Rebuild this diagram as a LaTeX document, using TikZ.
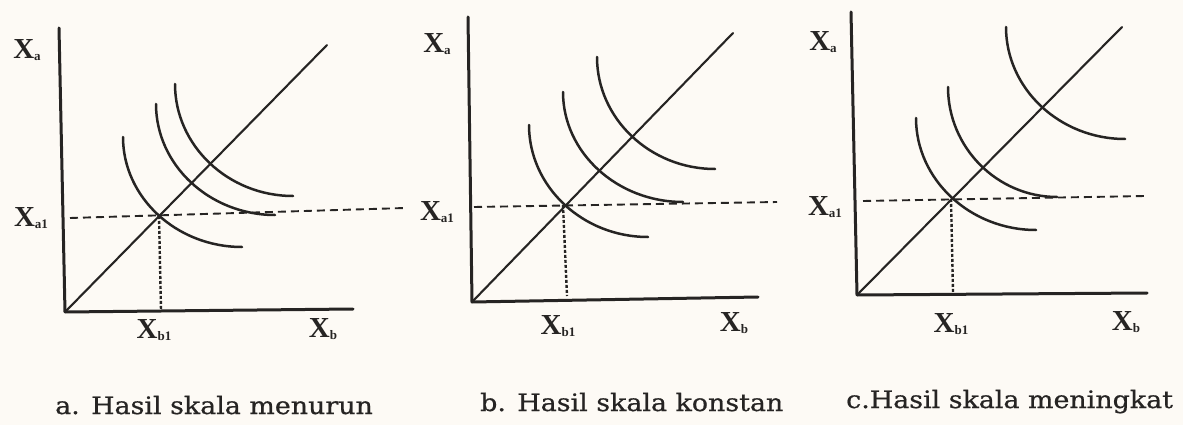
\documentclass[tikz,border=0pt]{standalone}
\usepackage{fontspec}
\setmainfont{Liberation Serif}
\newfontfamily\capfont[FakeStretch=1.12,FakeBold=0.6]{DejaVu Serif}
\usetikzlibrary{calc}
\definecolor{ink}{RGB}{38,36,35}
\definecolor{paper}{RGB}{253,250,245}
\newcommand\Xlab[1]{\textbf{X}\raisebox{-2pt}{\fontsize{13}{13}\selectfont\bfseries #1}}
\newcommand\icurve[3]{%
  \draw[curve] (#1) .. controls ($(#1)!0.55!(#1 |- #2)$) and ($(#2)!0.55!(#1 |- #2)$) .. (#2) coordinate (#3);}
\tikzset{
  axis/.style={draw=ink, line width=3pt, line cap=round, line join=round},
  diag/.style={draw=ink, line width=2.1pt, line cap=round},
  curve/.style={draw=ink, line width=2.5pt, line cap=round},
  hdash/.style={draw=ink, line width=1.9pt, dash pattern=on 8pt off 5pt},
  vdot/.style={draw=ink, line width=2.4pt, dash pattern=on 3pt off 2pt},
  lab/.style={text=ink, inner sep=0pt, font=\fontsize{29}{29}\selectfont},
  captext/.style={text=ink, inner sep=0pt, anchor=base west, font=\capfont\fontsize{24}{24}\selectfont},
}
\begin{document}
\begin{tikzpicture}[x=1pt,y=-1pt]
\fill[paper] (0,0) rectangle (1183,425);
\useasboundingbox (0,0) rectangle (1183,425);

% ---------- panel a ----------
\coordinate (aO) at (65,312);
\coordinate (aY) at (59,28);
\coordinate (aX) at (353,309);
\coordinate (aD) at (327,45);
\coordinate (aP) at (159,216);
\coordinate (aHs) at (70,218);
\coordinate (aHe) at (405,208);
\coordinate (aV) at (161,310);
\draw[axis] (aY) -- (aO) -- (aX);
\draw[diag] (aO) -- (aD);
\draw[hdash] (aHs) -- (aHe);
\draw[vdot] (aP) -- (aV);
\coordinate (a1s) at (123,137); \coordinate (a1e) at (242,247);
\coordinate (a2s) at (156,104); \coordinate (a2e) at (275,215);
\coordinate (a3s) at (175,84);  \coordinate (a3e) at (293,196);
\icurve{a1s}{a1e}{a1x}
\icurve{a2s}{a2e}{a2x}
\icurve{a3s}{a3e}{a3x}
\node[lab] (aLa) at (27,50) {\Xlab{a}};
\node[lab] (aLa1) at (31,218) {\Xlab{a1}};
\node[lab] (aLb1) at (154,330) {\Xlab{b1}};
\node[lab] (aLb) at (323,329) {\Xlab{b}};
\node[captext] (aCap) at (55,414) {a. Hasil skala menurun};

% ---------- panel b ----------
\coordinate (bO) at (472,302);
\coordinate (bY) at (468,17);
\coordinate (bX) at (758,297);
\coordinate (bD) at (733,33);
\coordinate (bP) at (563,205);
\coordinate (bHs) at (474,207);
\coordinate (bHe) at (777,202);
\coordinate (bV) at (567,296);
\draw[axis] (bY) -- (bO) -- (bX);
\draw[diag] (bO) -- (bD);
\draw[hdash] (bHs) -- (bHe);
\draw[vdot] (bP) -- (bV);
\coordinate (b1s) at (529,125); \coordinate (b1e) at (648,237);
\coordinate (b2s) at (563,92);  \coordinate (b2e) at (683,202);
\coordinate (b3s) at (597,57);  \coordinate (b3e) at (715,169);
\icurve{b1s}{b1e}{b1x}
\icurve{b2s}{b2e}{b2x}
\icurve{b3s}{b3e}{b3x}
\node[lab] (bLa) at (437,44) {\Xlab{a}};
\node[lab] (bLa1) at (437,212) {\Xlab{a1}};
\node[lab] (bLb1) at (558,326) {\Xlab{b1}};
\node[lab] (bLb) at (734,323) {\Xlab{b}};
\node[captext] (bCap) at (480,411) {b. Hasil skala konstan};

% ---------- panel c ----------
\coordinate (cO) at (857,295);
\coordinate (cY) at (851,12);
\coordinate (cX) at (1147,293);
\coordinate (cD) at (1122,27);
\coordinate (cP) at (951,199);
\coordinate (cHs) at (863,201);
\coordinate (cHe) at (1145,196);
\coordinate (cV) at (953,292);
\draw[axis] (cY) -- (cO) -- (cX);
\draw[diag] (cO) -- (cD);
\draw[hdash] (cHs) -- (cHe);
\draw[vdot] (cP) -- (cV);
\coordinate (c1s) at (916,118);  \coordinate (c1e) at (1036,230);
\coordinate (c2s) at (948,87);   \coordinate (c2e) at (1057,197);
\coordinate (c3s) at (1006,27);  \coordinate (c3e) at (1125,139);
\icurve{c1s}{c1e}{c1x}
\icurve{c2s}{c2e}{c2x}
\icurve{c3s}{c3e}{c3x}
\node[lab] (cLa) at (823,42) {\Xlab{a}};
\node[lab] (cLa1) at (825,207) {\Xlab{a1}};
\node[lab] (cLb1) at (951,324) {\Xlab{b1}};
\node[lab] (cLb) at (1126,322) {\Xlab{b}};
\node[captext] (cCap) at (846,408) {c.Hasil skala meningkat};
\end{tikzpicture}
\end{document}
